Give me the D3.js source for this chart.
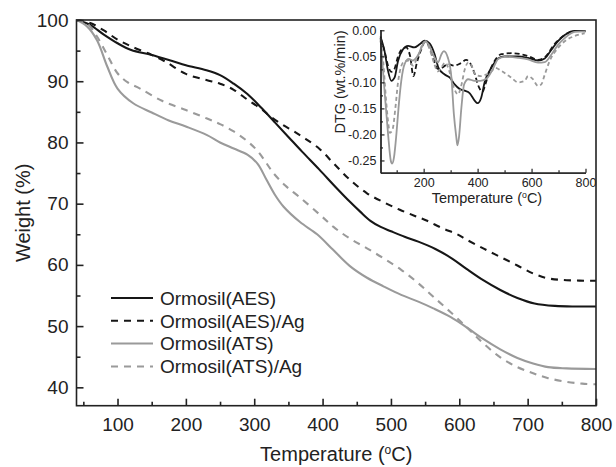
<!DOCTYPE html>
<html>
<head>
<meta charset="UTF-8">
<script src="https://cdn.jsdelivr.net/npm/d3@7"></script>
<style>
  body { margin: 0; background: #fff; }
  svg { display: block; font-family: "Liberation Sans", Arial, sans-serif; }
</style>
</head>
<body>
<svg id="chart"></svg>
<script>

// ---- main TGA curves: [temperature °C, weight %]
const tgaAES = [[40,100],[60,99.2],[80,97.6],[100,96.2],[120,95.1],[150,94.3],[180,93.3],[200,92.6],[230,91.8],[250,91.0],[270,89.6],[290,87.9],[310,85.7],[330,83.3],[350,80.9],[370,78.5],[395,75.6],[420,72.6],[440,70.3],[455,68.7],[470,67.2],[485,66.2],[500,65.5],[520,64.6],[540,63.8],[565,62.6],[590,61.0],[610,59.4],[635,57.5],[660,55.9],[685,54.6],[710,53.7],[740,53.3],[770,53.2],[800,53.2]];
const tgaAESAg = [[40,100],[60,99.5],[80,98.3],[100,96.8],[120,95.7],[150,94.3],[170,93.2],[200,91.2],[230,90.2],[250,89.6],[270,88.6],[290,87.0],[310,85.5],[323,84.3],[340,83.0],[358,81.8],[375,80.6],[396,78.9],[416,76.6],[440,73.9],[465,71.7],[490,70.2],[513,69.0],[535,68.0],[553,67.2],[575,66.0],[597,65.0],[611,64.1],[635,62.7],[660,61.3],[685,59.9],[708,58.6],[730,57.8],[757,57.5],[800,57.4]];
const tgaATS = [[40,100],[55,99.0],[70,96.7],[85,92.4],[100,88.8],[123,86.4],[150,84.9],[175,83.6],[200,82.6],[231,81.2],[250,80.0],[270,79.0],[290,78.0],[305,76.5],[318,73.9],[330,71.5],[343,69.5],[367,67.0],[392,65.0],[415,62.5],[440,59.8],[465,57.9],[489,56.5],[515,55.1],[540,54.0],[562,52.9],[587,51.5],[612,49.7],[635,47.9],[660,46.2],[685,44.8],[708,43.9],[730,43.3],[757,43.1],[800,43.0]];
const tgaATSAg = [[40,100],[55,99.5],[70,97.3],[85,94.3],[100,91.3],[115,89.8],[133,88.8],[165,86.8],[200,85.3],[231,83.9],[250,83.0],[270,81.8],[290,80.2],[305,78.6],[318,76.6],[328,75.0],[345,73.0],[367,71.0],[396,68.2],[416,66.2],[440,64.3],[465,62.7],[489,61.1],[515,59.2],[540,57.0],[562,54.8],[587,52.3],[612,49.7],[635,47.2],[660,44.9],[685,43.3],[708,42.3],[730,41.5],[757,40.9],[780,40.6],[800,40.5]];

// ---- inset DTG curves: [temperature °C, wt.%/min]
const dtgAES = [[40,-0.012],[55,-0.040],[68,-0.078],[80,-0.097],[92,-0.091],[105,-0.059],[123,-0.037],[142,-0.030],[165,-0.033],[185,-0.027],[204,-0.020],[222,-0.025],[240,-0.045],[255,-0.072],[278,-0.085],[297,-0.091],[315,-0.104],[334,-0.113],[352,-0.116],[371,-0.121],[389,-0.135],[400,-0.140],[413,-0.130],[426,-0.100],[451,-0.072],[476,-0.054],[500,-0.050],[550,-0.050],[587,-0.053],[624,-0.058],[649,-0.054],[673,-0.038],[698,-0.021],[723,-0.009],[760,-0.001],[800,-0.001]];
const dtgAESAg = [[40,-0.015],[55,-0.040],[68,-0.068],[80,-0.080],[92,-0.074],[105,-0.050],[120,-0.036],[135,-0.033],[150,-0.050],[162,-0.088],[175,-0.062],[190,-0.038],[205,-0.022],[222,-0.032],[238,-0.058],[252,-0.074],[268,-0.072],[290,-0.065],[312,-0.068],[335,-0.064],[358,-0.057],[372,-0.063],[388,-0.082],[404,-0.108],[418,-0.118],[428,-0.105],[440,-0.085],[463,-0.059],[488,-0.046],[525,-0.044],[562,-0.046],[599,-0.052],[624,-0.057],[649,-0.052],[686,-0.026],[723,-0.009],[760,-0.001],[800,-0.002]];
const dtgATS = [[40,-0.015],[55,-0.116],[68,-0.199],[78,-0.250],[83,-0.256],[90,-0.244],[99,-0.199],[107,-0.148],[117,-0.097],[130,-0.064],[145,-0.055],[160,-0.058],[179,-0.048],[198,-0.027],[206,-0.021],[222,-0.031],[241,-0.053],[253,-0.062],[266,-0.046],[275,-0.040],[290,-0.053],[303,-0.091],[312,-0.161],[321,-0.205],[325,-0.221],[331,-0.205],[340,-0.148],[350,-0.104],[365,-0.094],[389,-0.097],[410,-0.097],[435,-0.092],[456,-0.075],[476,-0.055],[500,-0.051],[550,-0.053],[587,-0.056],[624,-0.062],[649,-0.061],[673,-0.047],[698,-0.028],[723,-0.015],[760,-0.003],[800,-0.002]];
const dtgATSAg = [[40,-0.020],[50,-0.060],[60,-0.130],[68,-0.175],[75,-0.197],[85,-0.190],[95,-0.150],[105,-0.100],[115,-0.072],[128,-0.060],[145,-0.058],[160,-0.068],[170,-0.060],[185,-0.042],[197,-0.025],[206,-0.022],[222,-0.036],[238,-0.062],[252,-0.079],[265,-0.072],[280,-0.062],[296,-0.080],[312,-0.110],[327,-0.123],[340,-0.105],[352,-0.076],[365,-0.062],[376,-0.066],[392,-0.085],[412,-0.088],[432,-0.085],[450,-0.080],[465,-0.072],[488,-0.078],[525,-0.091],[550,-0.100],[575,-0.097],[587,-0.088],[605,-0.094],[624,-0.107],[636,-0.104],[649,-0.085],[667,-0.059],[698,-0.034],[723,-0.021],[760,-0.011],[797,-0.006]];

const seriesNames = ["Ormosil(AES)", "Ormosil(AES)/Ag", "Ormosil(ATS)", "Ormosil(ATS)/Ag"];

// ticks
const xMajor = [100, 200, 300, 400, 500, 600, 700, 800];
const xMinor = [50, 150, 250, 350, 450, 550, 650, 750];
const yMajor = [40, 50, 60, 70, 80, 90, 100];
const yMinor = [45, 55, 65, 75, 85, 95];
const insetXMajor = [200, 400, 600, 800];
const insetXMinor = [100, 300, 500, 700];
const insetYMajor = [0, -0.05, -0.10, -0.15, -0.20, -0.25];
const insetYMinor = [-0.025, -0.075, -0.125, -0.175, -0.225];

const width = 616, height = 467;
const black = "#161616", gray = "#9a9a9a";

const styles = [
    {color: black, dash: null,  insetDash: null},
    {color: black, dash: "7,6", insetDash: "5,3"},
    {color: gray,  dash: null,  insetDash: null},
    {color: gray,  dash: "7,6", insetDash: "4,3"}
];

const svg = d3.select("#chart").attr("width", width).attr("height", height);

// ---------------- main plot
const plot = {left: 76.5, right: 596, top: 20, bottom: 405.7};

const x = d3.scaleLinear().domain([40, 800]).range([plot.left, plot.right]);
const y = d3.scaleLinear().domain([37, 100]).range([plot.bottom, plot.top]);

const line = d3.line()
    .x(d => x(d[0]))
    .y(d => y(d[1]))
    .curve(d3.curveCatmullRom.alpha(0.5));

[tgaAES, tgaAESAg, tgaATS, tgaATSAg].forEach((data, i) => {
    svg.append("path")
        .datum(data)
        .attr("d", line)
        .attr("fill", "none")
        .attr("stroke", styles[i].color)
        .attr("stroke-width", 2.1)
        .attr("stroke-dasharray", styles[i].dash);
});

// frame
svg.append("rect")
    .attr("x", plot.left).attr("y", plot.top)
    .attr("width", plot.right - plot.left).attr("height", plot.bottom - plot.top)
    .attr("fill", "none").attr("stroke", "#222").attr("stroke-width", 1.6);

function styleAxis(g, fontSize) {
    g.select(".domain").remove();
    g.selectAll(".tick line").attr("stroke", "#222").attr("stroke-width", 1.6);
    g.selectAll(".tick text").attr("fill", "#222").attr("font-size", fontSize)
        .attr("font-family", "Liberation Sans, Arial, sans-serif");
}

svg.append("g")
    .attr("transform", `translate(0,${plot.bottom})`)
    .call(d3.axisBottom(x).tickValues(xMajor).tickSize(-7).tickPadding(11.5).tickFormat(d3.format("d")))
    .call(g => styleAxis(g, 19));
svg.append("g")
    .attr("transform", `translate(0,${plot.bottom})`)
    .call(d3.axisBottom(x).tickValues(xMinor).tickSize(-4).tickFormat(""))
    .call(g => styleAxis(g, 19));
svg.append("g")
    .attr("transform", `translate(${plot.left},0)`)
    .call(d3.axisLeft(y).tickValues(yMajor).tickSize(-7).tickPadding(8).tickFormat(d3.format("d")))
    .call(g => styleAxis(g, 19));
svg.append("g")
    .attr("transform", `translate(${plot.left},0)`)
    .call(d3.axisLeft(y).tickValues(yMinor).tickSize(-4).tickFormat(""))
    .call(g => styleAxis(g, 19));

// axis titles
function tempTitle(sel) {
    sel.append("tspan").text("Temperature (");
    sel.append("tspan").attr("font-size", "0.6em").attr("dy", "-0.6em").text("o");
    sel.append("tspan").attr("dy", "0.36em").text("C)");
}

svg.append("text")
    .attr("x", (plot.left + plot.right) / 2).attr("y", 461)
    .attr("text-anchor", "middle").attr("font-size", 20).attr("fill", "#222")
    .call(tempTitle);

svg.append("text")
    .attr("transform", `translate(30,${(plot.top + plot.bottom) / 2}) rotate(-90)`)
    .attr("text-anchor", "middle").attr("font-size", 20).attr("fill", "#222")
    .text("Weight (%)");

// legend
const legend = svg.append("g").attr("transform", "translate(111,298)");
seriesNames.forEach((name, i) => {
    const row = legend.append("g").attr("transform", `translate(0,${i * 22.8})`);
    row.append("line")
        .attr("x1", 0).attr("x2", 42).attr("y1", 0).attr("y2", 0)
        .attr("stroke", styles[i].color).attr("stroke-width", 2)
        .attr("stroke-dasharray", styles[i].dash);
    row.append("text")
        .attr("x", 49).attr("y", 6.8)
        .attr("font-size", 19).attr("fill", "#222")
        .text(name);
});

// ---------------- inset DTG plot
const inset = {left: 380.5, right: 585.5, top: 29.5, bottom: 172.7};

const xi = d3.scaleLinear().domain([40, 800]).range([inset.left, inset.right]);
const yi = d3.scaleLinear().domain([-0.2735, 0.0015]).range([inset.bottom, inset.top]);

const lineInset = d3.line()
    .x(d => xi(d[0]))
    .y(d => yi(d[1]))
    .curve(d3.curveMonotoneX);

[dtgAES, dtgAESAg, dtgATS, dtgATSAg].forEach((data, i) => {
    svg.append("path")
        .datum(data)
        .attr("d", lineInset)
        .attr("fill", "none")
        .attr("stroke", styles[i].color)
        .attr("stroke-width", 1.8)
        .attr("stroke-dasharray", styles[i].insetDash);
});

function styleInset(g) {
    g.select(".domain").attr("stroke", "#222").attr("stroke-width", 1.3);
    g.selectAll(".tick line").attr("stroke", "#222").attr("stroke-width", 1.2);
    g.selectAll(".tick text").attr("fill", "#222").attr("font-size", 12.5)
        .attr("font-family", "Liberation Sans, Arial, sans-serif");
}

svg.append("g")
    .attr("transform", `translate(0,${inset.bottom})`)
    .call(d3.axisBottom(xi).tickValues(insetXMajor).tickSize(-4).tickSizeOuter(0).tickPadding(5).tickFormat(d3.format("d")))
    .call(styleInset);
svg.append("g")
    .attr("transform", `translate(0,${inset.bottom})`)
    .call(d3.axisBottom(xi).tickValues(insetXMinor).tickSize(-2.5).tickSizeOuter(0).tickFormat(""))
    .call(styleInset);
svg.append("g")
    .attr("transform", `translate(${inset.left},0)`)
    .call(d3.axisLeft(yi).tickValues(insetYMajor).tickSize(-4).tickSizeOuter(0).tickPadding(4).tickFormat(d3.format(".2f")))
    .call(styleInset);
svg.append("g")
    .attr("transform", `translate(${inset.left},0)`)
    .call(d3.axisLeft(yi).tickValues(insetYMinor).tickSize(-2.5).tickSizeOuter(0).tickFormat(""))
    .call(styleInset);

// d3 uses a unicode minus; the figure shows plain hyphens
svg.selectAll(".tick text").each(function() {
    this.textContent = this.textContent.replace("\u2212", "-");
});

svg.append("text")
    .attr("x", (inset.left + inset.right) / 2 + 4).attr("y", 203)
    .attr("text-anchor", "middle").attr("font-size", 14.5).attr("fill", "#222")
    .call(tempTitle);

svg.append("text")
    .attr("transform", `translate(345,82) rotate(-90)`)
    .attr("text-anchor", "middle").attr("font-size", 14.5).attr("fill", "#222")
    .text("DTG (wt.%/min)");

</script>
</body>
</html>
